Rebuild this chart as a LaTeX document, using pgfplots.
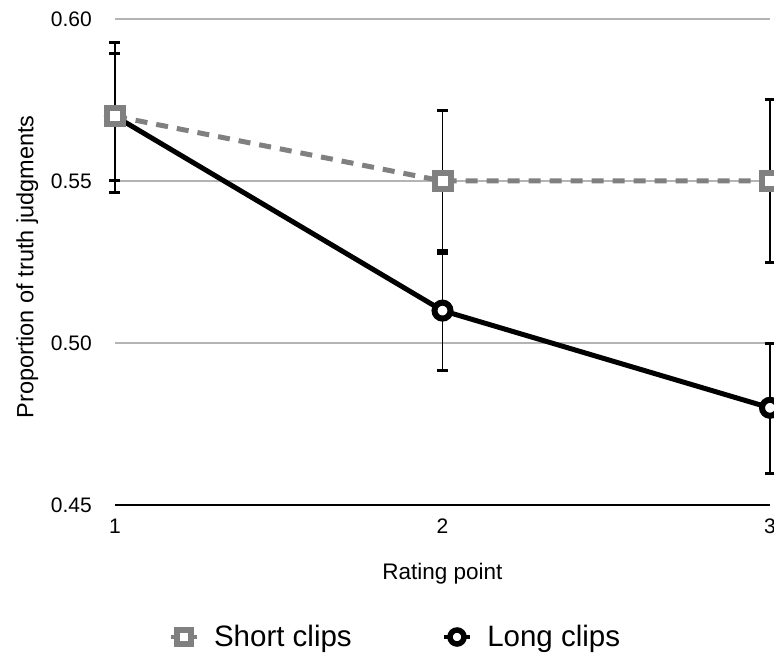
\documentclass[border=0pt]{standalone}
\usepackage{pgfplots}
\pgfplotsset{compat=1.18}
\usepackage{pgfplotstable}
\usepackage{fontspec}
\setmainfont{Liberation Sans}
\usetikzlibrary{calc}
\definecolor{shortgray}{RGB}{128,128,128}
\definecolor{gridgray}{RGB}{180,180,180}

\pgfdeclareplotmark{capbar}{%
  \pgfpathrectangle{\pgfqpoint{-5.5bp}{-1.5bp}}{\pgfqpoint{11bp}{3bp}}%
  \pgfusepathqfill}

\pgfplotstableread{
x y ep em
1 0.57 0.0192 0.0200
2 0.55 0.0219 0.0213
3 0.55 0.0253 0.0253
}\shortdata
\pgfplotstableread{
x y ep em
1 0.57 0.0229 0.0237
2 0.51 0.0176 0.0185
3 0.48 0.0200 0.0204
}\longdata

\begin{document}
\begin{tikzpicture}
\begin{axis}[
  name=ax,
  scale only axis,
  width=655bp, height=486bp,
  xmin=1, xmax=3, ymin=0.45, ymax=0.60,
  xtick={1,2,3}, ytick={0.45,0.50,0.55,0.60},
  /pgf/number format/assume math mode=true,
  axis line style={draw=none},
  tick style={draw=none},
  major tick length=0pt,
  ymajorgrids,
  grid style={gridgray, line width=1.3bp},
  extra y ticks={0.45},
  extra y tick labels={},
  extra y tick style={grid style={black, line width=1.5bp}},
  tick label style={font=\fontsize{21bp}{25bp}\selectfont},
  yticklabel style={/pgf/number format/fixed, /pgf/number format/fixed zerofill, /pgf/number format/precision=2, inner sep=0pt, anchor=east, xshift=-23bp},
  xticklabel style={inner sep=0pt, anchor=north, yshift=-14bp},
  xlabel={Rating point},
  ylabel={Proportion of truth judgments},
  xlabel style={font=\fontsize{22.5bp}{26bp}\selectfont, at={(axis description cs:0.5,-0.1193)}, anchor=north, inner sep=0pt},
  ylabel style={font=\fontsize{23.5bp}{27bp}\selectfont, at={(axis description cs:-0.151,0.49)}, anchor=north, inner sep=0pt},
  clip=false,
  legend columns=2,
  legend image code/.code={\draw[mark repeat=2, mark phase=2, #1] plot coordinates {(-13bp,0) (0bp,0) (13bp,0)};},
  legend style={draw=none, fill=none, at={(axis description cs:0.428,-0.2716)}, anchor=center,
    font=\fontsize{29.5bp}{34bp}\selectfont,
    /tikz/every odd column/.append style={column sep=13bp},
    /tikz/every even column/.append style={column sep=88bp}},
]
% lines and markers
\addplot[forget plot, black, line width=5bp, mark=*, mark size=8bp,
  mark options={solid, fill=white, draw=black, line width=6bp}]
  table[x=x, y=y] {\longdata};
\addplot[forget plot, shortgray, line width=5bp, dash pattern=on 12bp off 9bp, mark=square*, mark size=8bp,
  mark options={solid, fill=white, draw=shortgray, line width=6bp}]
  table[x=x, y=y] {\shortdata};
% error bars on top
\addplot[forget plot, draw=none, mark=none,
  error bars/.cd, y dir=both, y explicit,
  error bar style={draw=black, solid, line width=1.3bp},
  error mark=capbar,
  error mark options={rotate=90, fill=black, draw=none}]
  table[x=x, y=y, y error plus=ep, y error minus=em] {\shortdata};
\addplot[forget plot, draw=none, mark=none,
  error bars/.cd, y dir=both, y explicit,
  error bar style={draw=black, solid, line width=1.3bp},
  error mark=capbar,
  error mark options={rotate=90, fill=black, draw=none}]
  table[x=x, y=y, y error plus=ep, y error minus=em] {\longdata};
% legend
\addlegendimage{shortgray, line width=4.5bp, mark=square*, mark size=7bp,
  mark options={solid, fill=white, draw=shortgray, line width=5.5bp}}
\addlegendentry{Short clips}
\addlegendimage{black, line width=4.5bp, mark=*, mark size=7bp,
  mark options={solid, fill=white, draw=black, line width=5.5bp}}
\addlegendentry{Long clips}
\end{axis}
\pgfresetboundingbox
\path[use as bounding box] ($(ax.south west)+(-115bp,-152bp)$) rectangle ($(ax.south west)+(659bp,505bp)$);
\end{tikzpicture}
\end{document}
